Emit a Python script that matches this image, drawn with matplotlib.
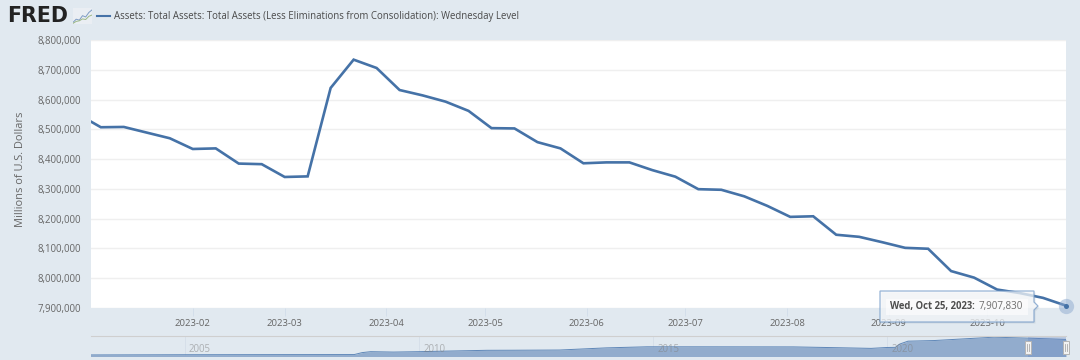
import datetime as dt
import matplotlib
matplotlib.use("Agg")
import matplotlib.pyplot as plt
import matplotlib.dates as mdates
from matplotlib.patches import Polygon, Rectangle
from matplotlib.ticker import FixedLocator, FuncFormatter

plt.rcParams['font.family'] = ['Open Sans', 'DejaVu Sans']

title = "Assets: Total Assets: Total Assets (Less Eliminations from Consolidation): Wednesday Level"
y_label = "Millions of U.S. Dollars"
start_date = "2022-12-28"
weekly_values = [8551000, 8507000, 8508000, 8489000, 8470000, 8434000, 8436000, 8385000, 8383000,
                 8340000, 8342000, 8639000, 8734000, 8706000, 8632000, 8614000, 8593000, 8562000,
                 8504000, 8503000, 8457000, 8436000, 8386000, 8389000, 8389000, 8363000, 8341000,
                 8299000, 8297000, 8275000, 8243000, 8206000, 8208000, 8146000, 8139000, 8121000,
                 8102000, 8099000, 8024000, 8002000, 7962000, 7950000, 7934000, 7907830]
y_ticks = [7900000, 8000000, 8100000, 8200000, 8300000, 8400000, 8500000, 8600000, 8700000, 8800000]
month_ticks = ["2023-02", "2023-03", "2023-04", "2023-05", "2023-06", "2023-07", "2023-08", "2023-09", "2023-10"]
nav_dates = ["2002-12-18", "2005-01-01", "2007-01-01", "2008-08-15", "2008-10-15", "2008-12-20", "2009-06-15",
             "2010-01-01", "2011-06-15", "2012-01-01", "2013-01-01", "2014-01-01", "2014-11-15", "2016-01-01",
             "2018-01-01", "2019-01-01", "2019-08-28", "2019-12-25", "2020-03-05", "2020-04-08", "2020-06-10",
             "2021-01-01", "2022-04-13", "2023-01-04", "2023-10-25"]
nav_values = [720000, 820000, 870000, 900000, 1800000, 2240000, 2050000, 2240000, 2870000, 2900000, 3000000,
              4000000, 4500000, 4490000, 4450000, 4050000, 3760000, 4170000, 4240000, 5800000, 7100000,
              7400000, 8960000, 8510000, 7907830]
nav_years = [2005, 2010, 2015, 2020]
tooltip_date = "Wed, Oct 25, 2023:"
tooltip_value = "7,907,830"

BG = "#E1E9F0"
LINE = "#4572A7"
W, H = 1080, 360

def rect(x0, y0, x1, y1):
    return [x0 / W, 1 - y1 / H, (x1 - x0) / W, (y1 - y0) / H]

fig = plt.figure(figsize=(10.8, 3.6), dpi=100, facecolor=BG)

dates = [dt.datetime.strptime(start_date, "%Y-%m-%d") + dt.timedelta(days=7 * i) for i in range(len(weekly_values))]

ax = fig.add_axes(rect(91, 40, 1066, 308), facecolor="white")
ax.plot(dates, weekly_values, color=LINE, lw=1.9, solid_joinstyle="miter", zorder=3)
ax.set_xlim(dt.datetime(2023, 1, 1), dates[-1])
ax.set_ylim(y_ticks[0], y_ticks[-1])
ax.yaxis.set_major_locator(FixedLocator(y_ticks))
ax.yaxis.set_major_formatter(FuncFormatter(lambda v, _: f"{int(v):,}"))
ax.set_xticks([dt.datetime.strptime(m + "-01", "%Y-%m-%d") for m in month_ticks])
ax.set_xticklabels(month_ticks)
ax.grid(axis="y", color="#EFEFEF", lw=1.0, zorder=0)
ax.set_axisbelow(True)
for s in ax.spines.values():
    s.set_visible(False)
ax.tick_params(axis="y", length=0, pad=7.5, labelsize=6.9, labelcolor="#666666")
ax.tick_params(axis="x", length=5.5, width=0.7, color="#D3DEEA", pad=2.5, labelsize=6.8, labelcolor="#666666")
ax.set_ylabel(y_label, fontsize=7.9, color="#666666", va="center")
ax.yaxis.set_label_coords((21 - 91) / 975, 0.519)

# highlighted last point
ax.plot(dates[-1], weekly_values[-1], "o", ms=11, mfc="#8FAAD0", mec="none", alpha=0.5, clip_on=False, zorder=4)
ax.plot(dates[-1], weekly_values[-1], "o", ms=3.6, mfc=LINE, mec="none", clip_on=False, zorder=5)

# navigator
nav = fig.add_axes(rect(91, 336, 1066, 356.5), facecolor="none")
nd = [dt.datetime.strptime(d, "%Y-%m-%d") for d in nav_dates]
nav.fill_between(nd, nav_values, 0, color="#92ACCD", lw=0, zorder=2)
nav.plot(nd, nav_values, color="#5F87B8", lw=0.7, zorder=3)
nav.set_xlim(dt.datetime(2003, 1, 1), nd[-1])
nav.set_ylim(0, 9500000)
nav.set_yticks([])
nav.set_xticks([])
for s in nav.spines.values():
    s.set_visible(False)
nav.axvspan(dt.datetime(2023, 1, 1), nd[-1], color="#6685C2", alpha=0.3, lw=0, zorder=4)
for yr in nav_years:
    d = mdates.date2num(dt.datetime(yr, 1, 1))
    nav.axvline(d, color="#D5DEE8", lw=0.6, zorder=1)
    nav.annotate(str(yr), xy=(d, 0.33), xycoords=nav.get_xaxis_transform(), xytext=(3, 0),
                 textcoords="offset points", fontsize=6.9, color="#808080", alpha=0.55,
                 ha="left", va="center", zorder=5)

# navigator top rule
fig.add_artist(plt.Line2D([91 / W, 1066 / W], [1 - 336 / H] * 2, color="#CFCFCF", lw=0.8))

# navigator handles
for hx in (1028, 1066):
    fig.add_artist(Rectangle(((hx - 3) / W, 1 - 354 / H), 6 / W, 13 / H, transform=fig.transFigure,
                             fc="#F2F2F2", ec="#B5B5B5", lw=0.7))
    for dx in (-0.9, 0.9):
        fig.add_artist(plt.Line2D([(hx + dx) / W] * 2, [1 - 351 / H, 1 - 344 / H], color="#AAAAAA", lw=0.6))

# tooltip
tip = [(880, 291), (1034, 291), (1034, 302), (1038, 306), (1034, 310), (1034, 322), (880, 322)]
shadow = [(x + 1.5, y + 1.5) for x, y in tip]
fig.add_artist(Polygon([(x / W, 1 - y / H) for x, y in shadow], closed=True, transform=fig.transFigure,
                       fc="#8899AA", ec="none", alpha=0.18, zorder=8))
fig.add_artist(Polygon([(x / W, 1 - y / H) for x, y in tip], closed=True, transform=fig.transFigure,
                       fc="#F7F9FB", ec="#6F97C6", lw=0.9, alpha=0.72, zorder=9))
fig.add_artist(Rectangle((886 / W, 1 - 315 / H), 142 / W, 16 / H, transform=fig.transFigure,
                         fc="white", ec="none", alpha=0.6, zorder=9.5))
fig.text(890 / W, 1 - 306.5 / H, tooltip_date, fontsize=6.85, fontweight="bold", color="#4D4D4D",
         ha="left", va="center", zorder=10)
fig.text(979 / W, 1 - 306.5 / H, tooltip_value, fontsize=7.1, color="#6E6E6E", ha="left", va="center", zorder=10)

# header: logo + legend
fig.text(7.5 / W, 1 - 16.5 / H, "FRED", family="DejaVu Sans", fontsize=14.8, fontweight="bold",
         color="#222222", ha="left", va="center")
logo = fig.add_axes(rect(73, 8, 92, 24), facecolor="#EAEEF3")
logo.plot([0, 1, 2, 3, 4, 5, 6], [0.5, 1.5, 1.2, 2.6, 2.2, 3.6, 4.4], color="#7E9CC4", lw=0.7)
logo.plot([0, 1, 2, 3, 4, 5, 6], [0.2, 0.8, 1.0, 1.6, 1.4, 2.4, 2.8], color="#9DB986", lw=0.7)
logo.set_xlim(0, 6)
logo.set_ylim(0, 5)
logo.set_xticks([])
logo.set_yticks([])
for s in logo.spines.values():
    s.set_visible(False)
fig.add_artist(plt.Line2D([97 / W, 110 / W], [1 - 15.5 / H] * 2, color=LINE, lw=1.5))
fig.text(114 / W, 1 - 16.5 / H, title, fontsize=6.9, color="#4A4A4A", ha="left", va="center")

fig.savefig("out.png", dpi=100, facecolor=BG)
